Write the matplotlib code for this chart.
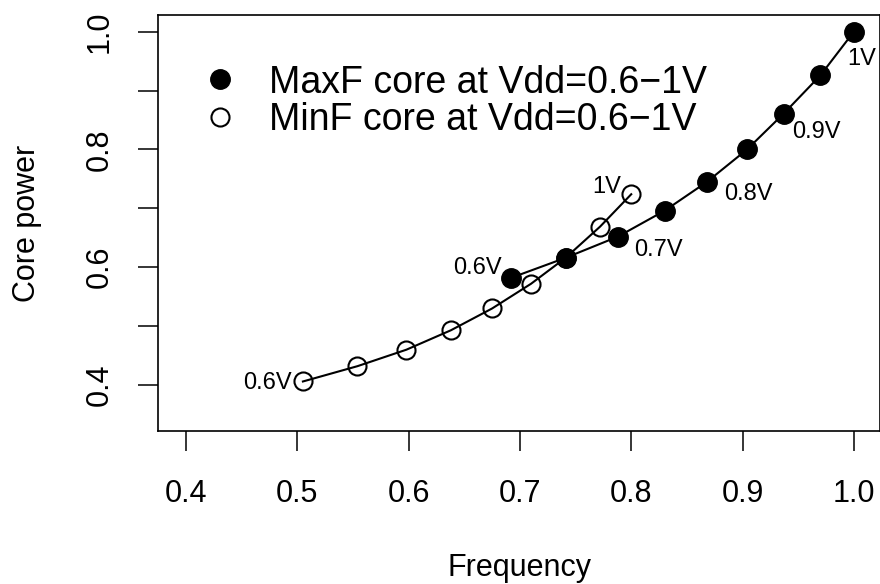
import matplotlib
matplotlib.use("Agg")
import matplotlib.pyplot as plt

plt.rcParams['font.family'] = ['Liberation Sans', 'DejaVu Sans']

# MaxF core, Vdd 0.6V .. 1V in 0.05V steps
maxf_freq = [0.692, 0.741, 0.788, 0.830, 0.868, 0.904, 0.937, 0.970, 1.000]
maxf_power = [0.582, 0.616, 0.652, 0.696, 0.745, 0.800, 0.861, 0.926, 1.000]
# MinF core, Vdd 0.6V .. 1V in 0.05V steps
minf_freq = [0.505, 0.554, 0.598, 0.638, 0.675, 0.710, 0.741, 0.772, 0.800]
minf_power = [0.406, 0.432, 0.460, 0.493, 0.530, 0.572, 0.616, 0.669, 0.724]

maxf_labels = {0: "0.6V", 2: "0.7V", 4: "0.8V", 6: "0.9V", 8: "1V"}
minf_labels = {0: "0.6V", 8: "1V"}

xticks = [0.4, 0.5, 0.6, 0.7, 0.8, 0.9, 1.0]
yticks = [0.4, 0.5, 0.6, 0.7, 0.8, 0.9, 1.0]
ytick_labels = ["0.4", "", "0.6", "", "0.8", "", "1.0"]

fig = plt.figure(figsize=(8.8, 5.84), dpi=100)
ax = fig.add_axes([158/880, 1-431/584, 722/880, 416/584])

ax.plot(maxf_freq, maxf_power, color="black", lw=1.5, marker="o", ms=14,
        mfc="black", mec="black", label="MaxF core at Vdd=0.6\u22121V", zorder=3)
ax.plot(minf_freq, minf_power, color="black", lw=1.5, marker="o", ms=13,
        mfc="none", mec="black", mew=1.5, label="MinF core at Vdd=0.6\u22121V", zorder=2)

# label offsets in points (dx, dy), and alignment
maxf_off = {0: (-6.5, 7, "right"), 2: (12, -9.5, "left"), 4: (12.5, -9, "left"),
            6: (6, -13.5, "left"), 8: (-5, -19.5, "left")}
minf_off = {0: (-8, -1, "right"), 8: (-7, 5, "right")}

for i, txt in maxf_labels.items():
    dx, dy, ha = maxf_off[i]
    ax.annotate(txt, (maxf_freq[i], maxf_power[i]), xytext=(dx, dy),
                textcoords="offset points", ha=ha, va="center", fontsize=17)
for i, txt in minf_labels.items():
    dx, dy, ha = minf_off[i]
    ax.annotate(txt, (minf_freq[i], minf_power[i]), xytext=(dx, dy),
                textcoords="offset points", ha=ha, va="center", fontsize=17)

ax.set_xlim(0.3748, 1.0235)
ax.set_ylim(0.3219, 1.0284)
ax.set_xticks(xticks)
ax.set_xticklabels(["%.1f" % v for v in xticks])
ax.set_yticks(yticks)
ax.set_yticklabels(ytick_labels, rotation=90, va="center")
ax.tick_params(axis="both", length=14.4, width=1.1, labelsize=22)
ax.tick_params(axis="x", pad=20)
ax.tick_params(axis="y", pad=16.5)

for s in ax.spines.values():
    s.set_linewidth(1.2)

ax.set_xlabel("Frequency", fontsize=22)
ax.xaxis.set_label_coords(0.5, -0.2936)
ax.set_ylabel("Core power", fontsize=22)
ax.yaxis.set_label_coords(-0.161, 0.5)

ax.legend(loc="upper left", bbox_to_anchor=(0.0596, 0.881), frameon=False,
          fontsize=27, borderpad=0, borderaxespad=0, handlelength=1,
          handletextpad=0.8, labelspacing=0.03, numpoints=1)
# legend handles without lines
leg = ax.get_legend()
for h in leg.legend_handles:
    h.set_linestyle("none")

fig.savefig("out.png", dpi=100)
